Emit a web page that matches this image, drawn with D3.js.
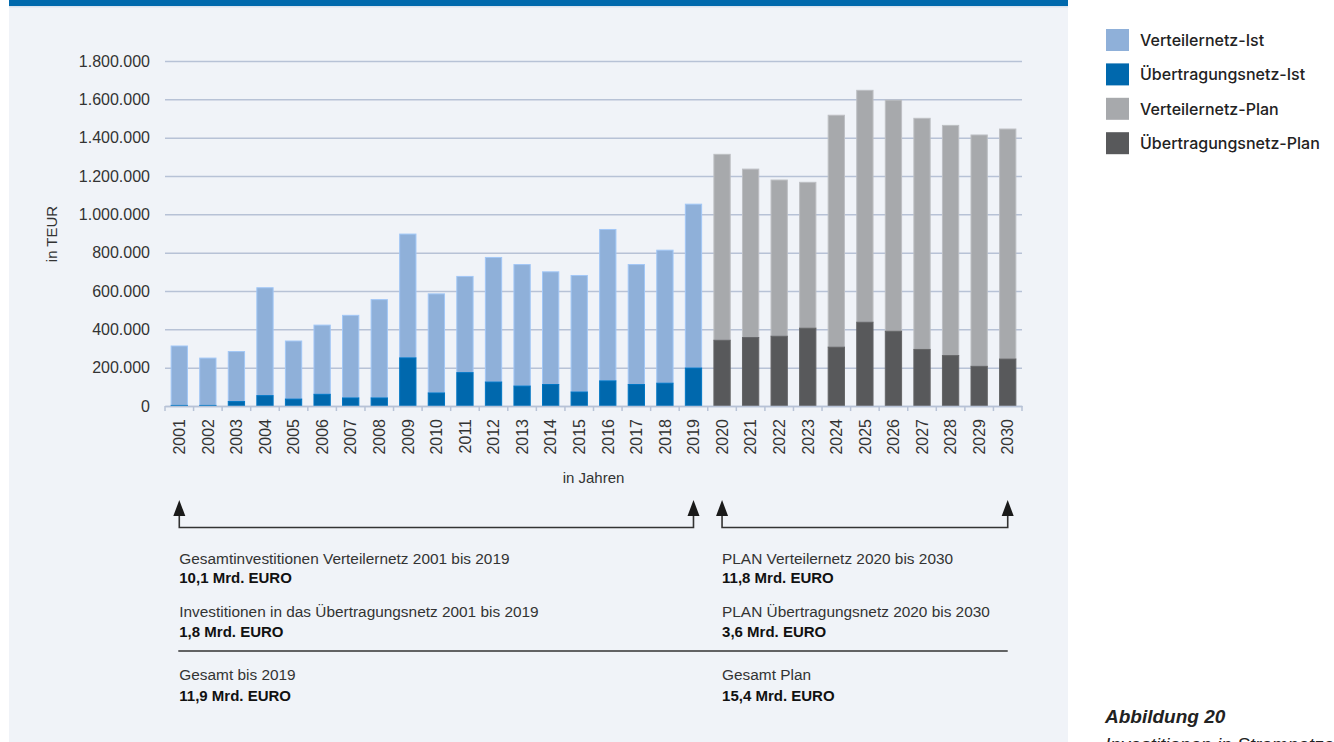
<!DOCTYPE html>
<html>
<head>
<meta charset="utf-8">
<script src="https://cdn.jsdelivr.net/npm/d3@7"></script>
<style>
  html, body { margin: 0; padding: 0; background: #ffffff; }
  svg { display: block; }
</style>
</head>
<body>
<svg id="chart" width="1334" height="742"></svg>
<script>
// ---------- DATA ----------
const yearsIst  = ["2001","2002","2003","2004","2005","2006","2007","2008","2009","2010",
                   "2011","2012","2013","2014","2015","2016","2017","2018","2019"];
const yearsPlan = ["2020","2021","2022","2023","2024","2025","2026","2027","2028","2029","2030"];

// values in TEUR
const verteilernetzIst     = [310000, 247000, 261000, 563000, 303000, 361000, 431000, 513000, 646000, 517000,
                              502000, 650000, 634000, 588000, 608000, 790000, 626000, 694000, 855000];
const uebertragungsnetzIst = [3000, 3000, 23000, 54000, 36000, 61000, 42000, 42000, 251000, 68000,
                              174000, 125000, 104000, 112000, 73000, 131000, 112000, 119000, 198000];
const verteilernetzPlan     = [970000, 879000, 815000, 761000, 1210000, 1210000, 1206000, 1206000, 1201000, 1207000, 1200000];
const uebertragungsnetzPlan = [343000, 357000, 364000, 406000, 307000, 437000, 390000, 295000, 263000, 207000, 245000];

const yTicks = [0, 200000, 400000, 600000, 800000, 1000000, 1200000, 1400000, 1600000, 1800000];

const seriesNames = ["Verteilernetz-Ist", "Übertragungsnetz-Ist", "Verteilernetz-Plan", "Übertragungsnetz-Plan"];
const seriesColors = ["#8fb0d9", "#0068ad", "#a7a9ac", "#58595b"];

const summaryLeft = [
  ["Gesamtinvestitionen Verteilernetz 2001 bis 2019", "10,1 Mrd. EURO"],
  ["Investitionen in das Übertragungsnetz 2001 bis 2019", "1,8 Mrd. EURO"],
  ["Gesamt bis 2019", "11,9 Mrd. EURO"]
];
const summaryRight = [
  ["PLAN Verteilernetz 2020 bis 2030", "11,8 Mrd. EURO"],
  ["PLAN Übertragungsnetz 2020 bis 2030", "3,6 Mrd. EURO"],
  ["Gesamt Plan", "15,4 Mrd. EURO"]
];

// ---------- BUILD ROWS ----------
const rows = [];
yearsIst.forEach((yr, i) => rows.push({year: yr, dark: uebertragungsnetzIst[i], light: verteilernetzIst[i], plan: false}));
yearsPlan.forEach((yr, i) => rows.push({year: yr, dark: uebertragungsnetzPlan[i], light: verteilernetzPlan[i], plan: true}));

// ---------- SETUP ----------
const svg = d3.select("#chart");
const W = 1334, H = 742;
const plot = {left: 165, right: 1022, top: 61, bottom: 406};

// panel background
svg.append("rect").attr("x", 9).attr("y", 0).attr("width", 1059).attr("height", H).attr("fill", "#f0f3f8");
svg.append("rect").attr("x", 9).attr("y", 0).attr("width", 1059).attr("height", 6).attr("fill", "#0069ad");
svg.append("rect").attr("x", 9).attr("y", 6).attr("width", 1059).attr("height", 1.5).attr("fill", "#d9e3ef");

const allYears = rows.map(d => d.year);
const x = d3.scaleBand().domain(allYears).range([plot.left, plot.right]).paddingInner(0.43).paddingOuter(0.215);
const y = d3.scaleLinear().domain([0, 1800000]).range([plot.bottom, plot.top]);

const locale = d3.formatLocale({decimal: ",", thousands: ".", grouping: [3], currency: ["", " €"]});
const fmt = locale.format(",");

const axisFont = "'Liberation Sans', Arial, sans-serif";

// y axis + gridlines
const gy = svg.append("g").attr("transform", `translate(${plot.left},0)`)
  .call(d3.axisLeft(y).tickValues(yTicks).tickFormat(fmt).tickSize(-(plot.right - plot.left)).tickPadding(15));
gy.select(".domain").remove();
gy.selectAll(".tick line").attr("stroke", "#b7c2d6").attr("stroke-width", 1.5);
gy.selectAll(".tick text").attr("fill", "#333").style("font-family", axisFont).style("font-size", "16px");

// bars
const barG = svg.append("g");
rows.forEach(d => {
  const cLight = d.plan ? seriesColors[2] : seriesColors[0];
  const cDark  = d.plan ? seriesColors[3] : seriesColors[1];
  barG.append("rect")
    .attr("x", x(d.year)).attr("width", x.bandwidth())
    .attr("y", y(d.dark + d.light)).attr("height", y(d.dark) - y(d.dark + d.light))
    .attr("fill", cLight).attr("stroke", d3.color(cLight).brighter(0.35)).attr("stroke-width", 1);
  barG.append("rect")
    .attr("x", x(d.year)).attr("width", x.bandwidth())
    .attr("y", y(d.dark)).attr("height", y(0) - y(d.dark))
    .attr("fill", cDark).attr("stroke", d3.color(cDark).brighter(0.35)).attr("stroke-width", 1);
});

// x axis
const gx = svg.append("g").attr("transform", `translate(0,${plot.bottom})`)
  .call(d3.axisBottom(x).tickSize(0).tickSizeOuter(0));
gx.select(".domain").attr("stroke", "#b7c2d6").attr("stroke-width", 1.5);
gx.selectAll(".tick text")
  .attr("transform", "rotate(-90)")
  .attr("x", -13).attr("y", 0).attr("dy", "0.36em")
  .attr("text-anchor", "end")
  .attr("fill", "#333")
  .style("font-family", axisFont).style("font-size", "16px");
// boundary ticks
const gap = (x.step() - x.bandwidth()) / 2;
const boundaries = allYears.map(yr => x(yr) - gap).concat([x(allYears[allYears.length - 1]) + x.bandwidth() + gap]);
svg.append("g").selectAll("line").data(boundaries).join("line")
  .attr("x1", d => d).attr("x2", d => d)
  .attr("y1", plot.bottom).attr("y2", plot.bottom + 5)
  .attr("stroke", "#b7c2d6").attr("stroke-width", 1.5);

// axis titles
svg.append("text").attr("x", (plot.left + plot.right) / 2).attr("y", 483)
  .attr("text-anchor", "middle").attr("fill", "#333")
  .style("font-family", axisFont).style("font-size", "15px").text("in Jahren");
svg.append("text").attr("transform", "translate(57,234) rotate(-90)")
  .attr("text-anchor", "middle").attr("fill", "#333")
  .style("font-family", axisFont).style("font-size", "15px").text("in TEUR");

// legend
const lg = svg.append("g");
seriesNames.forEach((name, i) => {
  const yy = 29 + i * 34.4;
  lg.append("rect").attr("x", 1106).attr("y", yy).attr("width", 23).attr("height", 22).attr("fill", seriesColors[i]);
  lg.append("text").attr("x", 1140).attr("y", yy + 11).attr("dy", "0.36em")
    .attr("fill", "#222").style("font-family", "Inter, 'Liberation Sans', sans-serif")
    .style("font-weight", 500).style("font-size", "16px").text(name);
});

// brackets with arrows
const xc = yr => x(yr) + x.bandwidth() / 2;
const bracketY = 527.5, tipY = 500, baseY = 515, halfW = 6;
function bracket(y0, y1) {
  const xa = xc(y0), xb = xc(y1);
  svg.append("path")
    .attr("d", `M${xa},${baseY} V${bracketY} H${xb} V${baseY}`)
    .attr("fill", "none").attr("stroke", "#333").attr("stroke-width", 1.6);
  [xa, xb].forEach(xx => {
    svg.append("path").attr("d", `M${xx},${tipY} L${xx + halfW},${baseY + 1} L${xx - halfW},${baseY + 1} Z`).attr("fill", "#1a1a1a");
  });
}
bracket(yearsIst[0], yearsIst[yearsIst.length - 1]);
bracket(yearsPlan[0], yearsPlan[yearsPlan.length - 1]);

// summary texts
const textFont = "'Liberation Sans', Arial, sans-serif";
const baselines = [[564, 583], [617, 637], [680, 700.5]];
function summary(list, x0) {
  list.forEach((pair, i) => {
    svg.append("text").attr("x", x0).attr("y", baselines[i][0]).attr("fill", "#333")
      .style("font-family", textFont).style("font-size", "15.4px").text(pair[0]);
    svg.append("text").attr("x", x0).attr("y", baselines[i][1]).attr("fill", "#111")
      .style("font-family", textFont).style("font-weight", "bold").style("font-size", "15px").text(pair[1]);
  });
}
summary(summaryLeft, xc(yearsIst[0]));
summary(summaryRight, xc(yearsPlan[0]));
svg.append("line").attr("x1", xc(yearsIst[0]) - 1).attr("x2", xc(yearsPlan[yearsPlan.length - 1]))
  .attr("y1", 651).attr("y2", 651).attr("stroke", "#333").attr("stroke-width", 1.4);

// caption
svg.append("text").attr("x", 1105).attr("y", 723).attr("fill", "#222")
  .style("font-family", textFont).style("font-style", "italic").style("font-weight", "bold").style("font-size", "19px")
  .text("Abbildung 20");
svg.append("text").attr("x", 1105).attr("y", 751).attr("fill", "#222")
  .style("font-family", textFont).style("font-style", "italic").style("font-size", "19px")
  .text("Investitionen in Stromnetze");
</script>
</body>
</html>
